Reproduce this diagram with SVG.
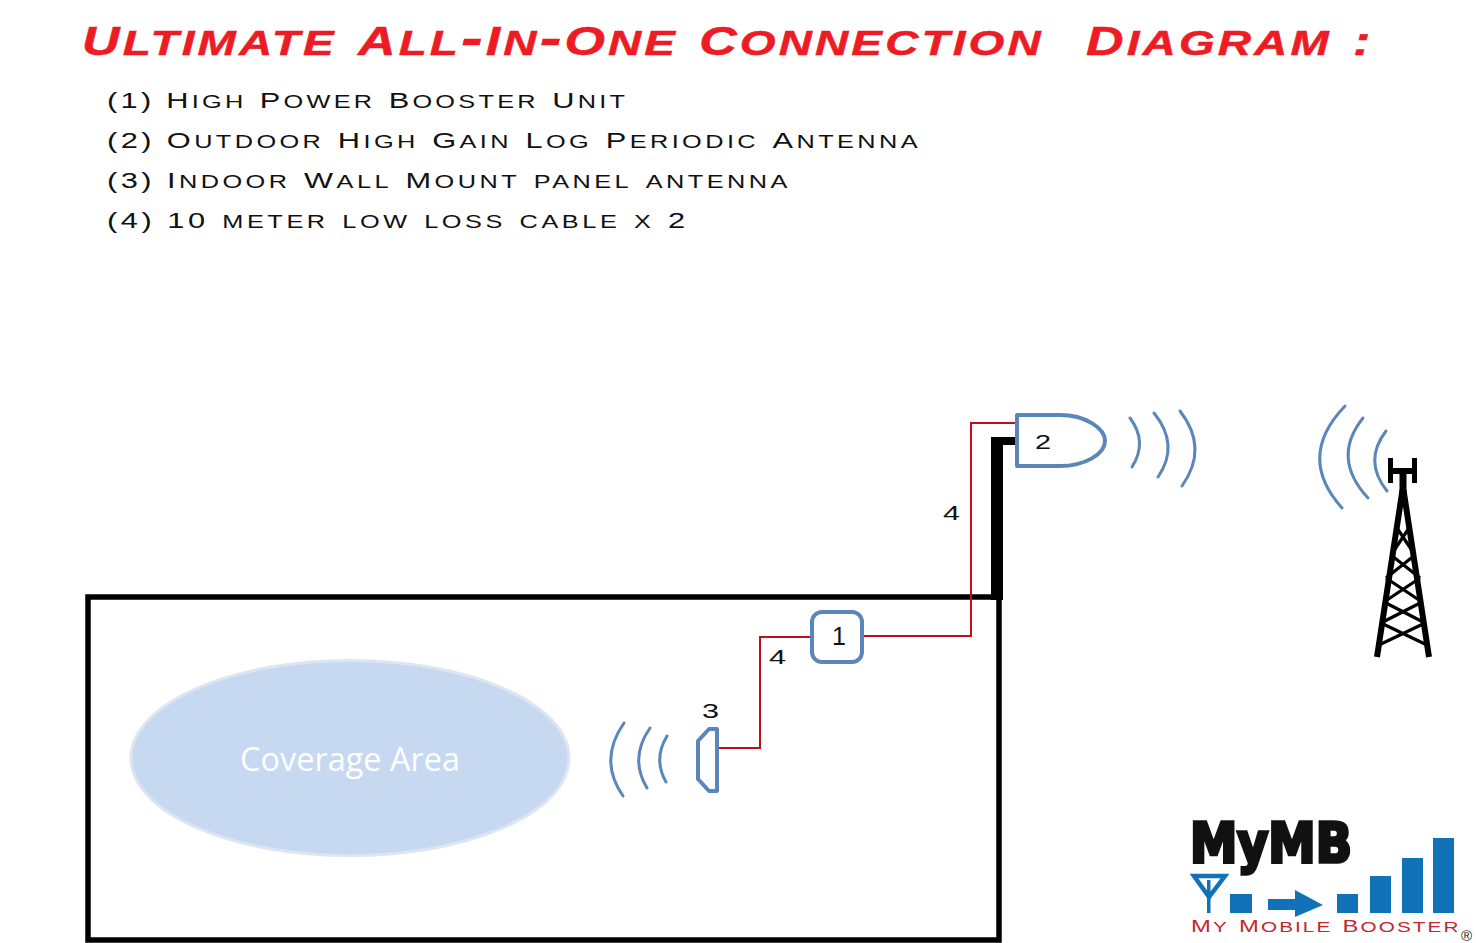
<svg xmlns="http://www.w3.org/2000/svg" width="1476" height="943" viewBox="0 0 1476 943">
<style>
text{font-family:"Liberation Sans",Arial,sans-serif}
.title{font-size:50px;font-weight:bold;font-style:italic;font-variant:small-caps;fill:#ed1c24;stroke:#ed1c24;stroke-width:.5px}
.title .c{font-size:40px}
.item{font-size:26px;font-variant:small-caps;fill:#111}
.item .c{font-size:22px}
.brand{font-size:21px;font-variant:small-caps;fill:#c4262e}
.brand .c{font-size:17px}
.num{font-size:20px;fill:#111}
.blue{fill:none;stroke:#5a86ba;stroke-width:4;stroke-linejoin:round}
.wave{fill:none;stroke:#5a86ba;stroke-width:3;stroke-linecap:round}
.red{fill:none;stroke:#c00f1a;stroke-width:2}
.tw{fill:none;stroke:#000;stroke-width:3.2}
.lb{fill:#1272b8}
</style>
<rect width="1476" height="943" fill="#fff"/>
<g id="heading">
<text class="title" transform="translate(82 55) scale(1.3 1)" textLength="991" xml:space="preserve"><tspan class="c">U</tspan>ltimate <tspan class="c">A</tspan>ll-<tspan class="c">I</tspan>n-<tspan class="c">O</tspan>ne <tspan class="c">C</tspan>onnection  <tspan class="c">D</tspan>iagram <tspan class="c">:</tspan></text>
<text class="item" transform="translate(107 108) scale(1.4 1)" textLength="370"><tspan class="c">(1) H</tspan>igh <tspan class="c">P</tspan>ower <tspan class="c">B</tspan>ooster <tspan class="c">U</tspan>nit</text>
<text class="item" transform="translate(107 148) scale(1.4 1)" textLength="579"><tspan class="c">(2) O</tspan>utdoor <tspan class="c">H</tspan>igh <tspan class="c">G</tspan>ain <tspan class="c">L</tspan>og <tspan class="c">P</tspan>eriodic <tspan class="c">A</tspan>ntenna</text>
<text class="item" transform="translate(107 188) scale(1.4 1)" textLength="486"><tspan class="c">(3) I</tspan>ndoor <tspan class="c">W</tspan>all <tspan class="c">M</tspan>ount panel antenna</text>
<text class="item" transform="translate(107 228) scale(1.4 1)" textLength="413"><tspan class="c">(4) 10</tspan> meter low loss cable x <tspan class="c">2</tspan></text>
</g>
<g id="building"><rect x="88" y="597" width="911" height="343" fill="none" stroke="#000" stroke-width="5.5"/></g>
<g id="coverage-area">
<ellipse cx="350" cy="758" rx="219" ry="97.500" fill="#c6d9f1" stroke="#dce6f2" stroke-width="3"/>
<text x="240" y="771" font-size="32" textLength="220" lengthAdjust="spacingAndGlyphs" style="font-family:'Open Sans',sans-serif" fill="#fff">Coverage Area</text>
</g>
<g id="connectors">
<path d="M991 600V437H1016V445H1003V600Z" fill="#000"/>
<path class="red" d="M1017 423H971V636H863"/>
<path class="red" d="M811 637H760V748H719"/>
</g>
<g id="node-1"><rect class="blue" x="812" y="612" width="50" height="50" rx="10"/><text x="839" y="645" font-size="25" text-anchor="middle" fill="#111">1</text></g>
<g id="node-2"><path class="blue" d="M1017 415H1060C1085 415 1105 428 1105 441C1105 454 1085 466 1060 466H1017Z"/><text class="num" x="1035" y="449" textLength="16" lengthAdjust="spacingAndGlyphs">2</text></g>
<g id="node-3"><path class="blue" d="M717 729H709L698 741V779L709 791H717Z"/><text class="num" x="702" y="718" textLength="17" lengthAdjust="spacingAndGlyphs">3</text></g>
<g id="cable-labels">
<text class="num" x="943" y="520" textLength="17" lengthAdjust="spacingAndGlyphs">4</text>
<text class="num" x="769" y="664" textLength="17" lengthAdjust="spacingAndGlyphs">4</text>
</g>
<g id="waves">
<path class="wave" d="M1130 418Q1148 442 1132 467"/>
<path class="wave" d="M1154 413Q1180 445 1158 477"/>
<path class="wave" d="M1180 411Q1209 448 1182 486"/>
<path class="wave" d="M1345 406Q1296 457 1342 508"/>
<path class="wave" d="M1363 418Q1331 458 1368 498"/>
<path class="wave" d="M1386 431Q1363 461 1387 491"/>
<path class="wave" d="M624 723Q598 760 623 796"/>
<path class="wave" d="M650 728Q629 758 647 788"/>
<path class="wave" d="M667 736Q653 759 666 782"/>
</g>
<g id="tower">
<path d="M1388 458h5v10h19v-10h5v25h-5v-9h-5.500v22h-7v-22h-6.500v9h-5z" fill="#000"/>
<path d="M1402.500 490L1377 657M1403.500 490L1429 657" stroke="#000" stroke-width="6" fill="none"/>
<path class="tw" d="M1397 528L1415 555M1409 528L1391 555M1391 555L1420 578M1415 555L1386 578M1386 578L1422 602M1420 578L1384 602M1384 602L1425 623M1422 602L1381 623M1381 623L1427 645M1425 623L1379 645"/>
</g>
<g id="logo">
<text x="1190" y="862" font-size="55" font-weight="bold" textLength="162" lengthAdjust="spacingAndGlyphs" stroke="#111" stroke-width="3.500" style="font-family:'DejaVu Sans',sans-serif" fill="#111">MyMB</text>
<path d="M1194 876H1225L1209 897Z" fill="none" stroke="#1272b8" stroke-width="4.500"/>
<rect class="lb" x="1207" y="880" width="3.500" height="33"/>
<rect class="lb" x="1230" y="894" width="22" height="19"/>
<path class="lb" d="M1268 899H1295V890L1323 905L1295 917V910H1268Z"/>
<rect class="lb" x="1337" y="894" width="21" height="19"/>
<rect class="lb" x="1370" y="876" width="21" height="37"/>
<rect class="lb" x="1402" y="858" width="21" height="55"/>
<rect class="lb" x="1433" y="838" width="21" height="75"/>
<text class="brand" transform="translate(1191 932) scale(1.4 1)" textLength="191"><tspan class="c">M</tspan>y <tspan class="c">M</tspan>obile <tspan class="c">B</tspan>ooster</text>
<text x="1461" y="941" font-size="15" fill="#222">®</text>
</g>
</svg>
